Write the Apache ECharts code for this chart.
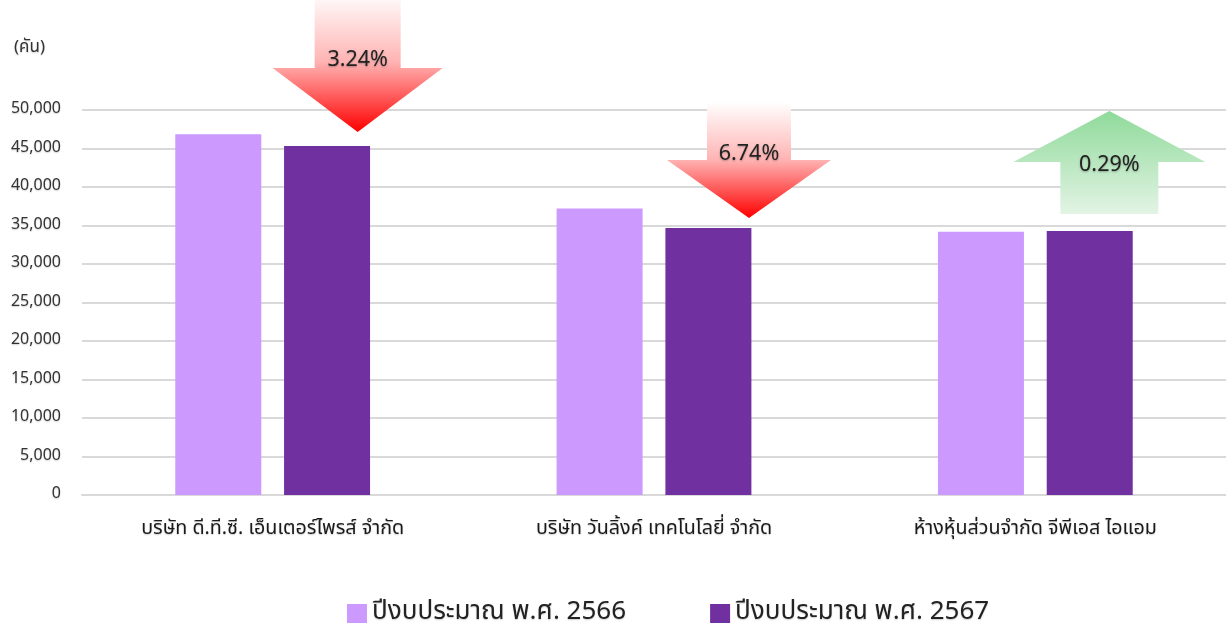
<!DOCTYPE html>
<html><head><meta charset="utf-8">
<script src="https://cdn.jsdelivr.net/npm/echarts@6/dist/echarts.min.js"></script>
<style>html,body{margin:0;padding:0;background:#fff}#c{width:1226px;height:623px}</style>
</head><body><div id="c"></div>
<script>
var categories = ['บริษัท ดี.ที.ซี. เอ็นเตอร์ไพรส์ จำกัด', 'บริษัท วันลิ้งค์ เทคโนโลยี่ จำกัด', 'ห้างหุ้นส่วนจำกัด จีพีเอส ไอแอม'];
var seriesNames = ['ปีงบประมาณ พ.ศ. 2566', 'ปีงบประมาณ พ.ศ. 2567'];
var values2566 = [46850, 37200, 34200];
var values2567 = [45330, 34690, 34300];
var changeLabels = ['3.24%', '6.74%', '0.29%'];
var changeDirections = ['down', 'down', 'up'];
var yTicks = [0, 5000, 10000, 15000, 20000, 25000, 30000, 35000, 40000, 45000, 50000];

var FONT = 'Tahoma, "Noto Sans Thai", "Noto Sans", "DejaVu Sans", sans-serif';

// arrow geometry in pixels (styles only), relative to category centre and bar top
var arrowLayout = [
  {dx: 85, gap: 14, headH: 64, headHW: 85, shaftHW: 43, shaftLen: 76, textDy: -70},
  {dx: 95, gap: 10, headH: 58, headHW: 82, shaftHW: 42, shaftLen: 58, textDy: -62},
  {dx: 74, gap: 17, headH: 51, headHW: 96, shaftHW: 49, shaftLen: 52, textDy: 56}
];

var arrowData = categories.map(function (c, i) { return [i, values2567[i]]; });

var shadow = {textShadowColor: 'rgba(0,0,0,0.2)', textShadowBlur: 1.5, textShadowOffsetY: 1};
function withShadow(o) { for (var k in shadow) o[k] = shadow[k]; return o; }

var chart = echarts.init(document.getElementById('c'));
chart.setOption({
  animation: false,
  textStyle: {fontFamily: FONT},
  title: {text: '(คัน)', left: 9, top: 35, textStyle: withShadow({fontSize: 17, fontWeight: 'normal', color: '#333', fontFamily: FONT})},
  grid: {left: 82, right: 0, top: 110, bottom: 128},
  legend: {
    data: seriesNames, left: 342, top: 596, itemWidth: 20, itemHeight: 20, itemGap: 84,
    icon: 'rect',
    textStyle: withShadow({fontSize: 26, color: '#222', fontFamily: FONT})
  },
  xAxis: {
    type: 'category', data: categories,
    axisLine: {lineStyle: {color: '#d9d9d9', width: 2}},
    axisTick: {show: false},
    axisLabel: withShadow({fontSize: 19.7, color: '#1a1a1a', margin: 25, interval: 0, fontFamily: FONT})
  },
  yAxis: {
    type: 'value', min: yTicks[0], max: yTicks[yTicks.length - 1], interval: yTicks[1] - yTicks[0],
    axisLine: {show: false}, axisTick: {show: false},
    splitLine: {lineStyle: {color: '#d9d9d9', width: 2}},
    axisLabel: withShadow({fontSize: 16, color: '#333', margin: 21, fontFamily: FONT,
      formatter: function (v) { return v.toLocaleString('en-US'); }})
  },
  series: [
    {name: seriesNames[0], type: 'bar', data: values2566, barWidth: 86, barGap: '26.5%', itemStyle: {color: '#cc99ff'}},
    {name: seriesNames[1], type: 'bar', data: values2567, barWidth: 86, itemStyle: {color: '#7030a0'}},
    {
      type: 'custom', data: arrowData, silent: true, z: 10,
      renderItem: function (params, api) {
        var i = api.value(0);
        var p = api.coord([i, api.value(1)]);
        var L = arrowLayout[i];
        var cx = p[0] + L.dx;
        var pts, fill, ty;
        if (changeDirections[i] === 'down') {
          var tip = p[1] - L.gap;
          var hb = tip - L.headH;
          var top = hb - L.shaftLen;
          pts = [[cx - L.shaftHW, top], [cx + L.shaftHW, top], [cx + L.shaftHW, hb], [cx + L.headHW, hb],
                 [cx, tip], [cx - L.headHW, hb], [cx - L.shaftHW, hb]];
          fill = new echarts.graphic.LinearGradient(0, 0, 0, 1, [
            {offset: 0, color: '#ffffff'}, {offset: 0.5, color: '#ffb3b3'}, {offset: 1, color: '#ff0000'}]);
          ty = tip + L.textDy;
        } else {
          var bottom = p[1] - L.gap;
          var hb2 = bottom - L.shaftLen;
          var tip2 = hb2 - L.headH;
          pts = [[cx, tip2], [cx + L.headHW, hb2], [cx + L.shaftHW, hb2], [cx + L.shaftHW, bottom],
                 [cx - L.shaftHW, bottom], [cx - L.shaftHW, hb2], [cx - L.headHW, hb2]];
          fill = new echarts.graphic.LinearGradient(0, 0, 0, 1, [
            {offset: 0, color: '#8fda9a'}, {offset: 1, color: '#e3f4e5'}]);
          ty = tip2 + L.textDy;
        }
        return {
          type: 'group',
          children: [
            {type: 'polygon', shape: {points: pts}, style: {fill: fill}},
            {type: 'text', x: cx, y: ty, style: {text: changeLabels[i], fill: '#222', fontSize: 21.5,
              fontFamily: FONT, align: 'center', verticalAlign: 'middle',
              textShadowColor: 'rgba(0,0,0,0.3)', textShadowBlur: 2, textShadowOffsetY: 1}}
          ]
        };
      }
    }
  ]
});
</script></body></html>
